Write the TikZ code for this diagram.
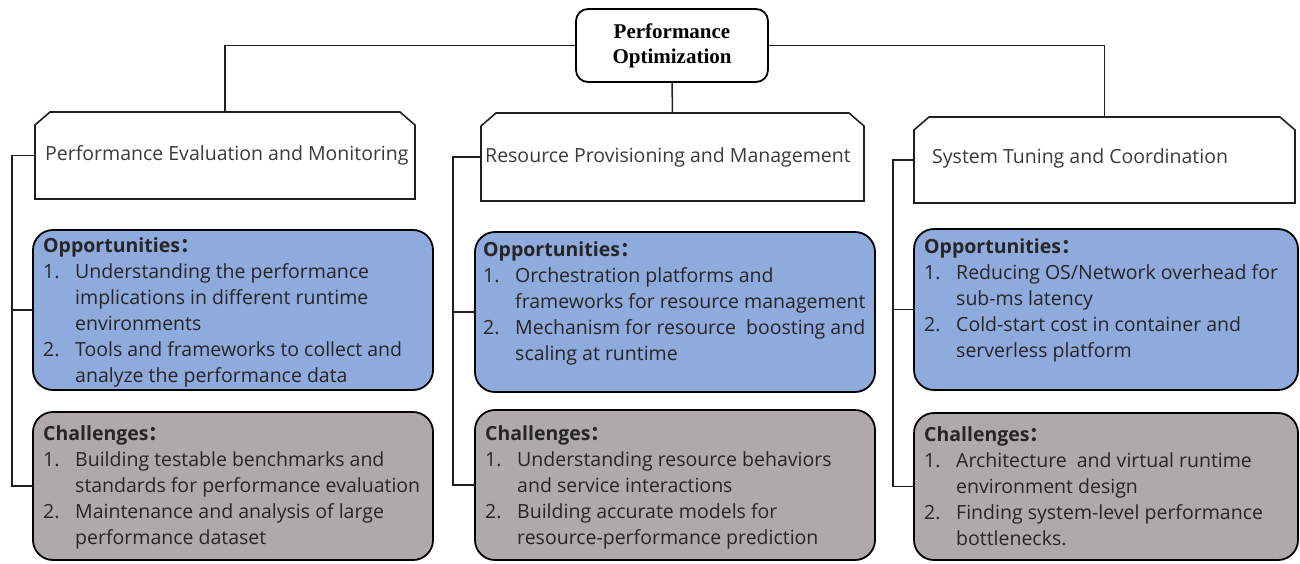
\documentclass[tikz,border=0pt]{standalone}
\usepackage{fontspec}
\setmainfont{Open Sans}
\newfontfamily\cjk{Noto Sans CJK SC}
\newfontfamily\tnr{Liberation Serif}
\usetikzlibrary{calc}
\definecolor{oppblue}{HTML}{8FAADC}
\definecolor{chalgray}{HTML}{AEAAAA}
\definecolor{bodytext}{HTML}{262626}
\definecolor{hdrtext}{HTML}{3A3A3A}
\newcommand{\itm}[2]{\makebox[32pt][l]{#1}#2}
\newcommand{\cnt}[1]{\hspace*{32pt}#1}
\newcommand{\colonfw}{{\cjk\bfseries ：}}
\begin{document}
\begin{tikzpicture}[x=1pt,y=-1pt,
  conn/.style={line width=1.5pt, draw=black!88},
  hdrline/.style={line width=1.6pt, draw=black!88, line join=miter},
  boxat/.style 2 args={minimum width=#1pt, minimum height=#2pt, inner sep=0pt, outer sep=0pt},
  topbox/.style={draw=black, line width=1.8pt, rounded corners=12pt, fill=white},
  oppbox/.style={draw=black, line width=1.8pt, rounded corners=20pt, fill=oppblue},
  chalbox/.style={draw=black, line width=1.8pt, rounded corners=20pt, fill=chalgray},
  bodytxt/.style={font=\fontsize{19.5}{26}\selectfont, text=bodytext, inner sep=0pt, align=left, anchor=north west},
  hdrtxt/.style={font=\fontsize{19.5}{24}\selectfont, text=hdrtext, inner sep=0pt, anchor=west}
]
\useasboundingbox (0,0) rectangle (1300,563);

% top node
\node[topbox, boxat={192}{73}, align=center, font=\tnr\bfseries\fontsize{21}{25}\selectfont] (top) at (672,45.5) {Performance\\Optimization};

% header boxes
\node[boxat={380}{87}] (h1) at (225,155.5) {};
\node[boxat={383}{88}] (h2) at (672.5,157) {};
\node[boxat={381}{86}] (h3) at (1104.5,160) {};
\foreach \n in {h1,h2,h3}{
  \draw[hdrline] (\n.south west) -- ([yshift=-13pt]\n.north west) -- ([xshift=15pt]\n.north west)
    -- ([xshift=-15pt]\n.north east) -- ([yshift=-13pt]\n.north east) -- (\n.south east) -- cycle;
}
\node[hdrtxt] (h1t) at (45,155) {Performance Evaluation and Monitoring};
\node[hdrtxt] (h2t) at (485,157) {Resource Provisioning and Management};
\node[hdrtxt] (h3t) at (932,158) {System Tuning and Coordination};

% opportunity and challenge boxes
\node[oppbox, boxat={400}{160}] (o1) at (233,310) {};
\node[oppbox, boxat={400}{160}] (o2) at (675,312) {};
\node[oppbox, boxat={384}{161}] (o3) at (1106,309.5) {};
\node[chalbox, boxat={400}{148}] (c1) at (233,486) {};
\node[chalbox, boxat={400}{150}] (c2) at (675,485) {};
\node[chalbox, boxat={384}{147}] (c3) at (1106,486.5) {};

\node[bodytxt] (o1t) at ($(o1.north west)+(10,4)$) {\begin{tabular}{@{}l@{}}
\textbf{Opportunities}\colonfw\\
\itm{1.}{Understanding the performance}\\
\cnt{implications in different runtime}\\
\cnt{environments}\\
\itm{2.}{Tools and frameworks to collect and}\\
\cnt{analyze the performance data}
\end{tabular}};
\node[bodytxt] (o2t) at ($(o2.north west)+(8,6)$) {\begin{tabular}{@{}l@{}}
\textbf{Opportunities}\colonfw\\
\itm{1.}{Orchestration platforms and}\\
\cnt{frameworks for resource management}\\
\itm{2.}{Mechanism for resource\ \ boosting and}\\
\cnt{scaling at runtime}
\end{tabular}};
\node[bodytxt] (o3t) at ($(o3.north west)+(10,6)$) {\begin{tabular}{@{}l@{}}
\textbf{Opportunities}\colonfw\\
\itm{1.}{Reducing OS/Network overhead for}\\
\cnt{sub-ms latency}\\
\itm{2.}{Cold-start cost in container and}\\
\cnt{serverless platform}
\end{tabular}};
\node[bodytxt] (c1t) at ($(c1.north west)+(10,10)$) {\begin{tabular}{@{}l@{}}
\textbf{Challenges}\colonfw\\
\itm{1.}{Building testable benchmarks and}\\
\cnt{standards for performance evaluation}\\
\itm{2.}{Maintenance and analysis of large}\\
\cnt{performance dataset}
\end{tabular}};
\node[bodytxt] (c2t) at ($(c2.north west)+(10,12)$) {\begin{tabular}{@{}l@{}}
\textbf{Challenges}\colonfw\\
\itm{1.}{Understanding resource behaviors}\\
\cnt{and service interactions}\\
\itm{2.}{Building accurate models for}\\
\cnt{resource-performance prediction}
\end{tabular}};
\node[bodytxt] (c3t) at ($(c3.north west)+(10,10)$) {\begin{tabular}{@{}l@{}}
\textbf{Challenges}\colonfw\\
\itm{1.}{Architecture\ \ and virtual runtime}\\
\cnt{environment design}\\
\itm{2.}{Finding system-level performance}\\
\cnt{bottlenecks.}
\end{tabular}};

% connectors
\draw[conn] (top.west) -| (h1.north);
\draw[conn] (top.east) -| (h3.north);
\draw[conn] (top.south) -- (h2.north);

\coordinate (s1) at (12,155);
\coordinate (s2) at (453,157);
\coordinate (s3) at (893,157);
\draw[conn] (h1.west) -- (h1.west -| s1) |- (c1.west);
\draw[conn] (o1.west -| s1) -- (o1.west);
\draw[conn] (h2.west) -- (h2.west -| s2) |- (c2.west);
\draw[conn] (o2.west -| s2) -- (o2.west);
\draw[conn] (h3.west) -- (h3.west -| s3) |- (c3.west);
\draw[conn] (o3.west -| s3) -- (o3.west);
\end{tikzpicture}
\end{document}
